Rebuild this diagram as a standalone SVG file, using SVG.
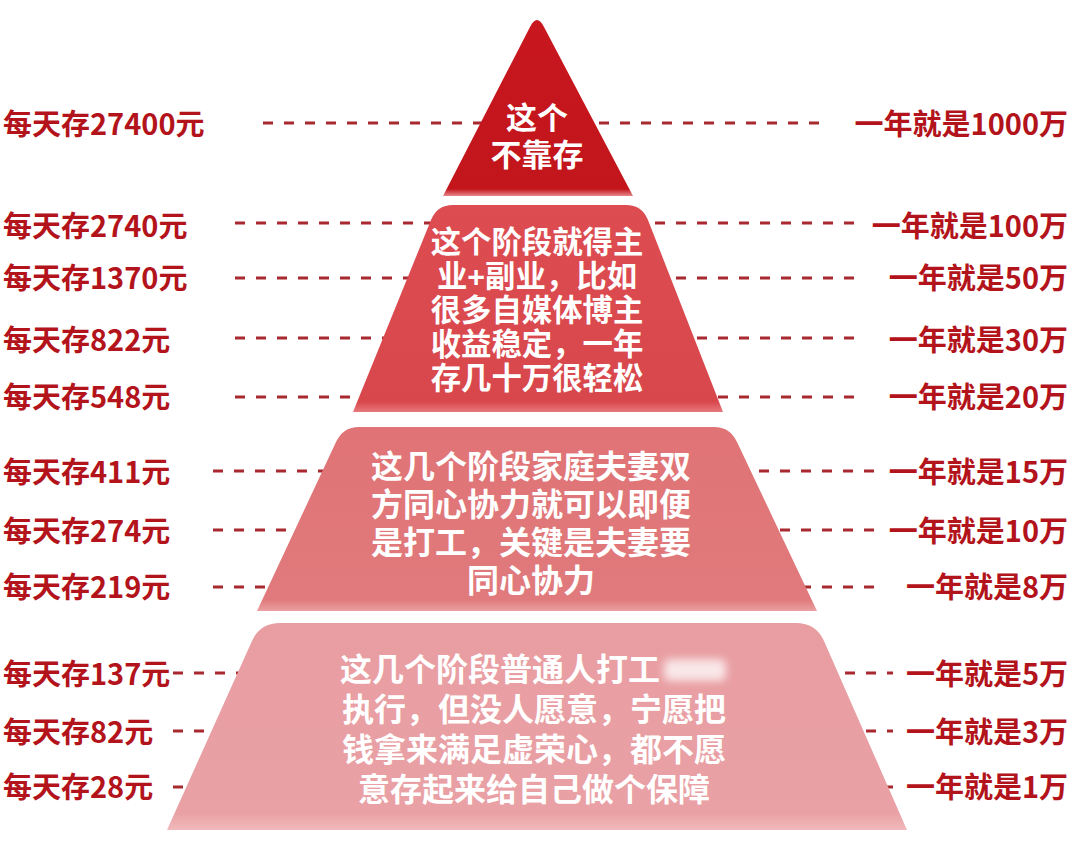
<svg xmlns="http://www.w3.org/2000/svg" width="1080" height="863" viewBox="0 0 1080 863">
  <defs>
    <style>
      .lbl { font-family: "Noto Sans CJK SC", "Noto Sans", sans-serif; font-weight: 700; font-size: 29px; fill: #b3131b; }
      .lr { text-anchor: end; }
      .tt { font-family: "Liberation Sans", "Noto Sans CJK SC", sans-serif; font-weight: 700; fill: #ffffff; text-anchor: middle; }
      .dash { stroke: #a8292f; stroke-width: 3.2; stroke-dasharray: 10 11; fill: none; }
    </style>
    <linearGradient id="g1" x1="0" y1="0" x2="0" y2="1">
      <stop offset="0" stop-color="#c8171e"/>
      <stop offset="0.96" stop-color="#c2151c"/>
      <stop offset="1" stop-color="#e6888b"/>
    </linearGradient>
    <linearGradient id="g2" x1="0" y1="0" x2="0" y2="1">
      <stop offset="0" stop-color="#dc4c51"/>
      <stop offset="0.95" stop-color="#d8474c"/>
      <stop offset="1" stop-color="#e7797c"/>
    </linearGradient>
    <linearGradient id="g3" x1="0" y1="0" x2="0" y2="1">
      <stop offset="0" stop-color="#e07376"/>
      <stop offset="0.94" stop-color="#e07a7c"/>
      <stop offset="1" stop-color="#eaa0a2"/>
    </linearGradient>
    <linearGradient id="g4" x1="0" y1="0" x2="0" y2="1">
      <stop offset="0" stop-color="#e89da1"/>
      <stop offset="0.92" stop-color="#e9a1a5"/>
      <stop offset="1" stop-color="#f1b9bc"/>
    </linearGradient>
    <filter id="blur" x="-30%" y="-50%" width="160%" height="200%">
      <feGaussianBlur stdDeviation="4"/>
    </filter>
  </defs>

  <rect width="1080" height="863" fill="#ffffff"/>

  <g id="connectors">
    <line class="dash" x1="263" y1="123" x2="828" y2="123"/>
    <line class="dash" x1="235" y1="223" x2="855" y2="223"/>
    <line class="dash" x1="235" y1="278" x2="855" y2="278"/>
    <line class="dash" x1="235" y1="338" x2="855" y2="338"/>
    <line class="dash" x1="235" y1="397" x2="855" y2="397"/>
    <line class="dash" x1="213" y1="471" x2="880" y2="471"/>
    <line class="dash" x1="213" y1="530" x2="880" y2="530"/>
    <line class="dash" x1="213" y1="587" x2="880" y2="587"/>
    <line class="dash" x1="173" y1="673" x2="893" y2="673"/>
    <line class="dash" x1="173" y1="731" x2="893" y2="731"/>
    <line class="dash" x1="173" y1="787" x2="893" y2="787"/>
  </g>

  <g id="tier1">
    <path d="M 443,196 L 530,27 Q 537,13 544,27 L 633,196 Z" fill="url(#g1)"/>
    <text class="tt" x="537" y="129" font-size="31">这个</text>
    <text class="tt" x="537" y="166" font-size="31">不靠存</text>
  </g>

  <g id="tier2">
    <path d="M 353,412 L 431,220 Q 437,205 453,205 L 626,205 Q 642,205 648,220 L 723,412 Z" fill="url(#g2)"/>
    <text class="tt" x="537" y="253" font-size="30.4">这个阶段就得主</text>
    <text class="tt" x="537" y="287" font-size="30.4">业+副业，比如</text>
    <text class="tt" x="537" y="321" font-size="30.4">很多自媒体博主</text>
    <text class="tt" x="537" y="355" font-size="30.4">收益稳定，一年</text>
    <text class="tt" x="537" y="389" font-size="30.4">存几十万很轻松</text>
  </g>

  <g id="tier3">
    <path d="M 257,611 L 336,442 Q 343,427 359,427 L 714,427 Q 730,427 737,442 L 817,611 Z" fill="url(#g3)"/>
    <text class="tt" x="531" y="478" font-size="32">这几个阶段家庭夫妻双</text>
    <text class="tt" x="531" y="516" font-size="32">方同心协力就可以即便</text>
    <text class="tt" x="531" y="554" font-size="32">是打工，关键是夫妻要</text>
    <text class="tt" x="531" y="592" font-size="32">同心协力</text>
  </g>

  <g id="tier4">
    <path d="M 167,830 L 252,641 Q 260,623 280,623 L 796,623 Q 816,623 824,641 L 907,830 Z" fill="url(#g4)"/>
    <text class="tt" x="340" y="681" font-size="32" style="text-anchor:start">这几个阶段普通人打工</text>
    <rect x="664" y="659" width="62" height="22" rx="6" fill="#ffffff" opacity="0.75" filter="url(#blur)"/>
    <text class="tt" x="534" y="721" font-size="32">执行，但没人愿意，宁愿把</text>
    <text class="tt" x="534" y="761" font-size="32">钱拿来满足虚荣心，都不愿</text>
    <text class="tt" x="534" y="801" font-size="32">意存起来给自己做个保障</text>
  </g>

  <g id="left-labels">
    <text class="lbl" x="3" y="135">每天存27400元</text>
    <text class="lbl" x="3" y="237">每天存2740元</text>
    <text class="lbl" x="3" y="289">每天存1370元</text>
    <text class="lbl" x="3" y="351">每天存822元</text>
    <text class="lbl" x="3" y="408">每天存548元</text>
    <text class="lbl" x="3" y="483">每天存411元</text>
    <text class="lbl" x="3" y="542">每天存274元</text>
    <text class="lbl" x="3" y="598">每天存219元</text>
    <text class="lbl" x="3" y="685">每天存137元</text>
    <text class="lbl" x="3" y="743">每天存82元</text>
    <text class="lbl" x="3" y="798">每天存28元</text>
  </g>

  <g id="right-labels">
    <text class="lbl lr" x="1068" y="135">一年就是1000万</text>
    <text class="lbl lr" x="1068" y="237">一年就是100万</text>
    <text class="lbl lr" x="1068" y="289">一年就是50万</text>
    <text class="lbl lr" x="1068" y="351">一年就是30万</text>
    <text class="lbl lr" x="1068" y="408">一年就是20万</text>
    <text class="lbl lr" x="1068" y="483">一年就是15万</text>
    <text class="lbl lr" x="1068" y="542">一年就是10万</text>
    <text class="lbl lr" x="1068" y="598">一年就是8万</text>
    <text class="lbl lr" x="1068" y="685">一年就是5万</text>
    <text class="lbl lr" x="1068" y="743">一年就是3万</text>
    <text class="lbl lr" x="1068" y="798">一年就是1万</text>
  </g>
</svg>
